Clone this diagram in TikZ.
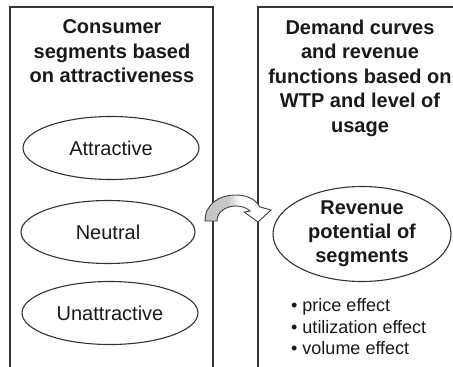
\documentclass[tikz,border=0pt]{standalone}
\usepackage{fontspec}
\setmainfont{Liberation Sans}
\usetikzlibrary{shapes.geometric}
% horizontal fade used for the curved transfer arrow
\pgfdeclarehorizontalshading{bandfade}{100bp}{color(0bp)=(black!25); color(42bp)=(black!22); color(52bp)=(white); color(100bp)=(white)}
\begin{document}
\begin{tikzpicture}[x=1pt,y=-1pt,
  frame/.style={draw=black!80, line width=1.4pt},
  segment/.style={ellipse, draw=black!80, line width=1.1pt, inner sep=0pt,
    font=\fontsize{20}{24}\selectfont, text=black!90},
  heading/.style={align=center, inner sep=0pt, anchor=north,
    font=\bfseries\fontsize{20}{24.5}\selectfont, text=black!90},
  transfer/.style={draw=black!75, line width=0.9pt, shading=bandfade},
]
\path[use as bounding box, clip] (0,0) rectangle (453,367);

% the two open panels
\draw[frame] (10,372) -- (10,7) -- (213,7) -- (213,372);
\draw[frame] (258,372) -- (258,7) -- (460,7);

% left panel
\node[heading] (lefthead) at (112,19.5) {Consumer\\segments based\\on attractiveness};
\node[segment, minimum width=176, minimum height=63] (attr) at (111,148) {Attractive};
\node[segment, minimum width=174, minimum height=63] (neutral) at (108,232) {Neutral};
\node[segment, minimum width=176, minimum height=63] (unattr) at (110,313) {Unattractive};

% right panel
\node[heading] (righthead) at (360,19.5) {Demand curves\\and revenue\\functions based on\\WTP and level of\\usage};
\node[segment, font=\bfseries\fontsize{20}{24}\selectfont, align=center,
  minimum width=178, minimum height=95] (revenue) at (362,234) {Revenue\\potential of\\segments};
\node[anchor=north west, align=left, inner sep=0pt, text=black!90,
  font=\fontsize{18}{21.5}\selectfont] (effects) at (291,298.5)
  {• price effect\\• utilization effect\\• volume effect};

% curved arrow from the left panel into the right one
\path[transfer] (205,221) .. controls (205,204) and (219,195) .. (236,195)
  .. controls (248,195) and (256,200) .. (260,207) -- (271,210) -- (258,222)
  -- (244,212) -- (250,211) .. controls (247,208) and (242,206) .. (236,206)
  .. controls (227,206) and (217,211) .. (217,221) -- cycle;
\end{tikzpicture}
\end{document}
